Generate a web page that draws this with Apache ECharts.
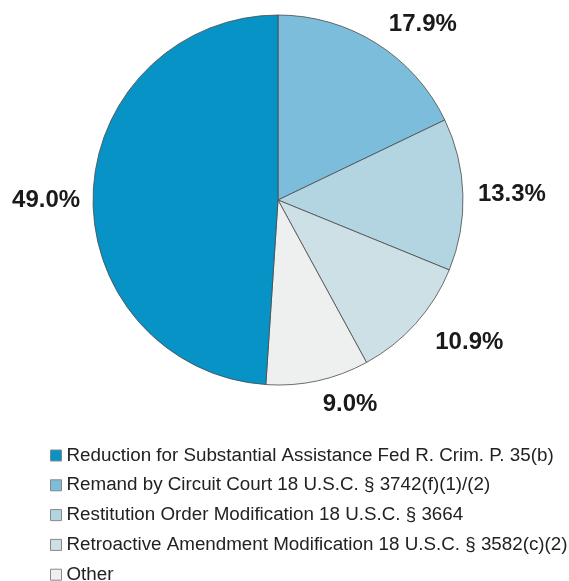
<!DOCTYPE html>
<html>
<head>
<meta charset="utf-8">
<script src="https://cdn.jsdelivr.net/npm/echarts@6/dist/echarts.min.js"></script>
<style>
html,body{margin:0;padding:0;background:#fff;}
#chart{width:569px;height:581px;}
</style>
</head>
<body>
<div id="chart"></div>
<script>
// Legend order (as displayed)
const categories = [
  'Reduction for Substantial Assistance Fed R. Crim. P. 35(b)',
  'Remand by Circuit Court 18 U.S.C. § 3742(f)(1)/(2)',
  'Restitution Order Modification 18 U.S.C. § 3664',
  'Retroactive Amendment Modification 18 U.S.C. § 3582(c)(2)',
  'Other'
];
const values = [49.0, 17.9, 13.3, 10.9, 9.0];
const colors = ['#0893c6', '#7cbddb', '#b2d5e1', '#cde0e5', '#eef0f0'];
// drawing order clockwise from top
const drawOrder = [1, 2, 3, 4, 0];
// per-category label tweaks (legend order)
const labelLengths = [13, 23, 15, 26, 23];
const labelDrop = [14, 0, 0, 3, 2];

const data = drawOrder.map(i => ({
  name: categories[i],
  value: values[i],
  itemStyle: { color: colors[i] },
  labelLine: { length: labelLengths[i], length2: 0 }
}));

const chart = echarts.init(document.getElementById('chart'), null, { renderer: 'canvas' });
chart.setOption({
  animation: false,
  backgroundColor: '#ffffff',
  legend: {
    data: categories,
    orient: 'vertical',
    left: 50,
    top: 446,
    height: 200,
    padding: 0,
    itemWidth: 11,
    itemHeight: 11,
    itemGap: 10.8,
    icon: 'rect',
    itemStyle: { borderColor: '#888', borderWidth: 1 },
    textStyle: { fontFamily: 'Liberation Sans, Arial, sans-serif', fontSize: 18.8, color: '#222' },
    selectedMode: false
  },
  series: [{
    type: 'pie',
    center: [278, 200],
    radius: [0, 185],
    startAngle: 90,
    clockwise: true,
    avoidLabelOverlap: false,
    itemStyle: { borderColor: '#4a4a4a', borderWidth: 0.8 },
    label: {
      show: true,
      position: 'outside',
      formatter: p => {
        const drop = labelDrop[categories.indexOf(p.name)];
        const txt = '{v|' + p.value.toFixed(1) + '%}';
        return drop > 0 ? '{s|}\n' + txt : txt;
      },
      rich: {
        v: { fontFamily: 'Liberation Sans, Arial, sans-serif', fontWeight: 'bold', fontSize: 24, color: '#1a1a1a', height: 26 }
      },
      fontFamily: 'Liberation Sans, Arial, sans-serif',
      fontWeight: 'bold',
      fontSize: 24,
      color: '#1a1a1a',
      distanceToLabelLine: 0
    },
    labelLine: { show: false },
    emphasis: { disabled: true },
    data: data.map((d, k) => {
      const i = drawOrder[k];
      return Object.assign({}, d, {
        label: { rich: { s: { height: labelDrop[i], fontSize: 1 } } }
      });
    })
  }]
});
</script>
</body>
</html>
